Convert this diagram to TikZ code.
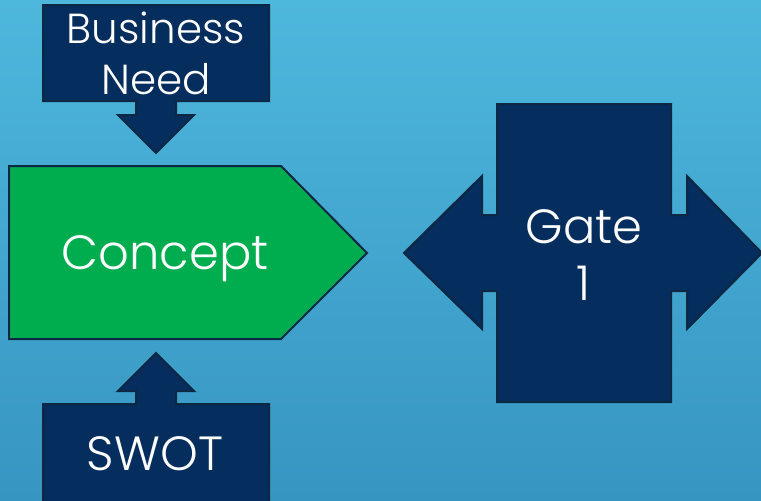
\documentclass[tikz,border=0pt]{standalone}
\usepackage{fontspec}
\setmainfont{Poppins}[UprightFont=* Light]
\usepackage{tikz}
\usetikzlibrary{positioning}

\definecolor{bgtop}{RGB}{78,183,220}
\definecolor{bgbottom}{RGB}{55,149,194}
\definecolor{navy}{RGB}{5,45,93}
\definecolor{navyline}{RGB}{12,40,66}
\definecolor{conceptgreen}{RGB}{0,173,78}

\begin{document}
\begin{tikzpicture}[x=1pt,y=-1pt,
		block/.style={fill=navy,draw=navyline,line width=2pt,line join=miter},
		phase/.style={fill=conceptgreen,draw=navyline,line width=2pt,line join=miter},
		lbl/.style={text=white,align=center,inner sep=0pt},
		bigtext/.style={lbl,font=\fontsize{48}{57}\selectfont},
		smalltext/.style={lbl,font=\fontsize{42}{51}\selectfont}]
		
		\useasboundingbox (0,0) rectangle (761,501);
		\shade[top color=bgtop,bottom color=bgbottom] (0,0) rectangle (761,501);
		
		% input: business need
		\draw[block] (43,5) -- (269,5) -- (269,101) -- (176,101) -- (176,115) -- (194,115)
			-- (156,153) -- (118,115) -- (136,115) -- (136,101) -- (43,101) -- cycle;
		\node (need) [smalltext] at (156,53) {Business\\Need};
		
		% the phase itself
		\draw[phase] (9,166) -- (281,166) -- (367,253) -- (281,339) -- (9,339) -- cycle;
		\node (concept) [bigtext] at (165,259) {Concept};
		
		% input: swot
		\draw[block] (43,404) -- (136,404) -- (136,391) -- (118,391) -- (156,353) -- (194,391)
			-- (176,391) -- (176,404) -- (269,404) -- (269,505) -- (43,505) -- cycle;
		\node (swot) [bigtext] at (155,454) {SWOT};
		
		% gate
		\draw[block] (497,104) -- (671,104) -- (671,215) -- (687,215) -- (687,176) -- (762,253)
			-- (687,329) -- (687,291) -- (671,291) -- (671,402) -- (497,402) -- (497,291)
			-- (482,291) -- (482,329) -- (404,253) -- (482,176) -- (482,215) -- (497,215) -- cycle;
		\node (gate) [bigtext] at (584,255) {Gate\\1};
		
	\end{tikzpicture}
\end{document}
